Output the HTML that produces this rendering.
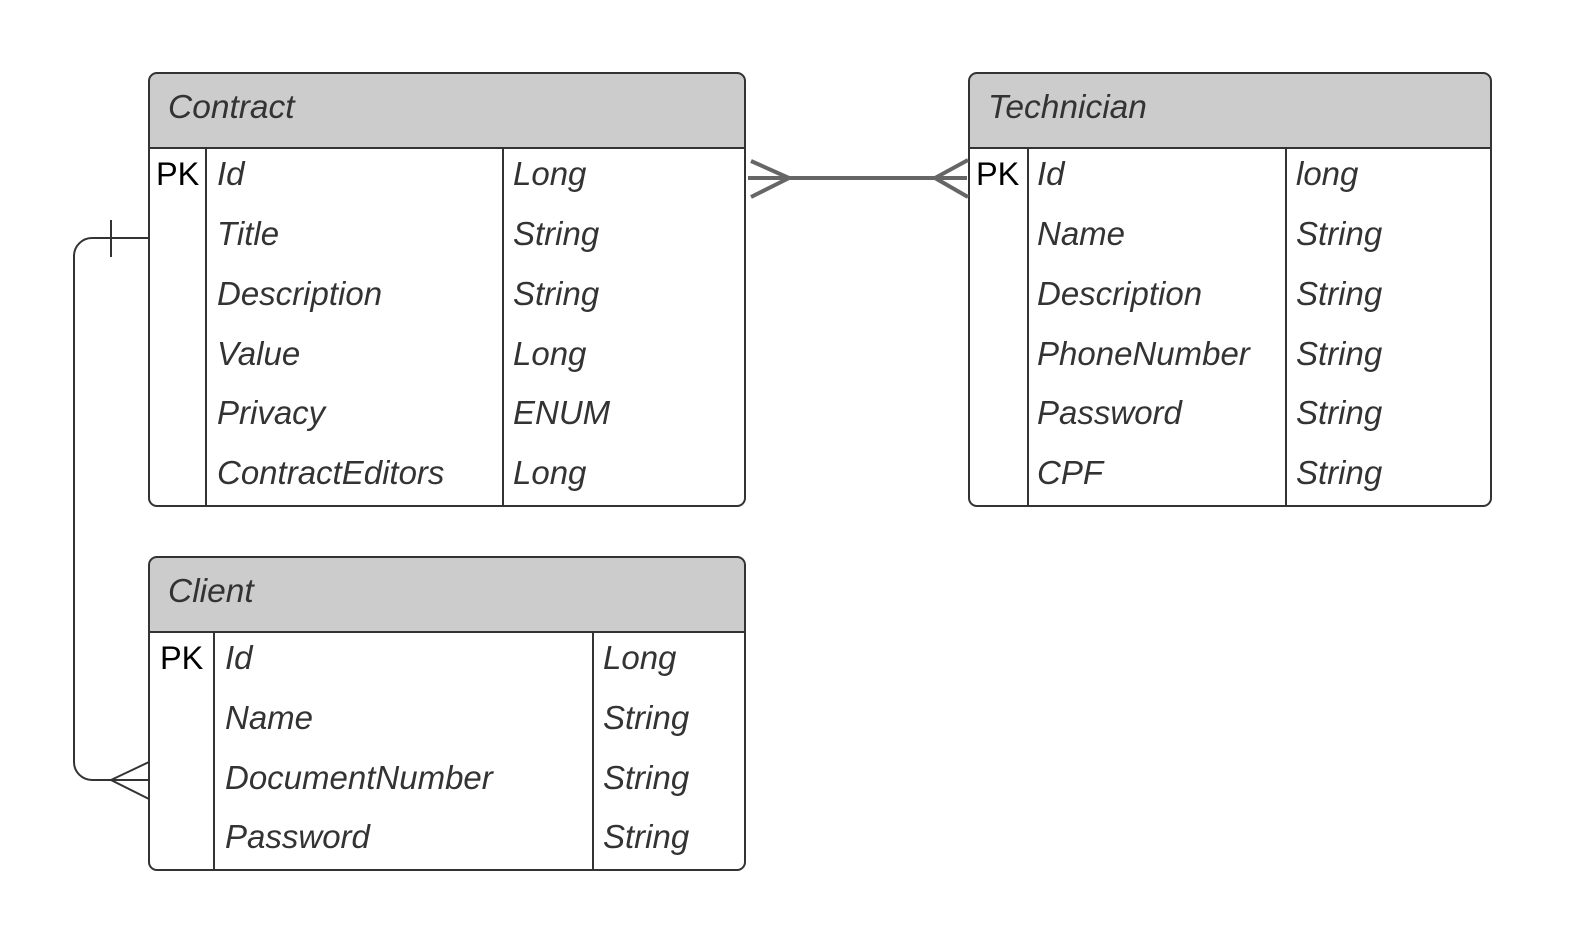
<!DOCTYPE html>
<html><head><meta charset="utf-8"><style>
html,body{margin:0;padding:0;background:#fff;}
svg{display:block;}
.t{font-family:"Liberation Sans",sans-serif;font-style:italic;font-size:33.5px;fill:#333;}
.c{font-family:"Liberation Sans",sans-serif;font-style:italic;font-size:33px;fill:#333;}
.pk{font-family:"Liberation Sans",sans-serif;font-size:32.5px;fill:#000;}
</style></head><body>
<svg width="1577" height="951" viewBox="0 0 1577 951" xmlns="http://www.w3.org/2000/svg">
<rect width="1577" height="951" fill="#fff"/>
<!-- Contract -->
<path d="M149,148 V81 a8,8 0 0 1 8,-8 H737 a8,8 0 0 1 8,8 V148 Z" fill="#ccc"/>
<rect x="149" y="73" width="596" height="433" rx="8" fill="none" stroke="#333" stroke-width="2"/>
<line x1="149" y1="148" x2="745" y2="148" stroke="#333" stroke-width="2"/>
<line x1="206" y1="148" x2="206" y2="506" stroke="#333" stroke-width="2"/>
<line x1="503" y1="148" x2="503" y2="506" stroke="#333" stroke-width="2"/>
<text class="t" x="168" y="118">Contract</text>
<text class="pk" x="156" y="185">PK</text>
<g class="c">
<text x="217" y="185">Id</text><text x="513" y="185">Long</text>
<text x="217" y="245">Title</text><text x="513" y="245">String</text>
<text x="217" y="305">Description</text><text x="513" y="305">String</text>
<text x="217" y="365">Value</text><text x="513" y="365">Long</text>
<text x="217" y="424">Privacy</text><text x="513" y="424">ENUM</text>
<text x="217" y="484">ContractEditors</text><text x="513" y="484">Long</text>
</g>
<!-- Technician -->
<path d="M969,148 V81 a8,8 0 0 1 8,-8 H1483 a8,8 0 0 1 8,8 V148 Z" fill="#ccc"/>
<rect x="969" y="73" width="522" height="433" rx="8" fill="none" stroke="#333" stroke-width="2"/>
<line x1="969" y1="148" x2="1491" y2="148" stroke="#333" stroke-width="2"/>
<line x1="1028" y1="148" x2="1028" y2="506" stroke="#333" stroke-width="2"/>
<line x1="1286" y1="148" x2="1286" y2="506" stroke="#333" stroke-width="2"/>
<text class="t" x="988" y="118">Technician</text>
<text class="pk" x="976" y="185">PK</text>
<g class="c">
<text x="1037" y="185">Id</text><text x="1296" y="185">long</text>
<text x="1037" y="245">Name</text><text x="1296" y="245">String</text>
<text x="1037" y="305">Description</text><text x="1296" y="305">String</text>
<text x="1037" y="365">PhoneNumber</text><text x="1296" y="365">String</text>
<text x="1037" y="424">Password</text><text x="1296" y="424">String</text>
<text x="1037" y="484">CPF</text><text x="1296" y="484">String</text>
</g>
<!-- Client -->
<path d="M149,632 V565 a8,8 0 0 1 8,-8 H737 a8,8 0 0 1 8,8 V632 Z" fill="#ccc"/>
<rect x="149" y="557" width="596" height="313" rx="8" fill="none" stroke="#333" stroke-width="2"/>
<line x1="149" y1="632" x2="745" y2="632" stroke="#333" stroke-width="2"/>
<line x1="214" y1="632" x2="214" y2="870" stroke="#333" stroke-width="2"/>
<line x1="593" y1="632" x2="593" y2="870" stroke="#333" stroke-width="2"/>
<text class="t" x="168" y="602">Client</text>
<text class="pk" x="160" y="669">PK</text>
<g class="c">
<text x="225" y="669">Id</text><text x="603" y="669">Long</text>
<text x="225" y="729">Name</text><text x="603" y="729">String</text>
<text x="225" y="789">DocumentNumber</text><text x="603" y="789">String</text>
<text x="225" y="848">Password</text><text x="603" y="848">String</text>
</g>
<!-- left connector -->
<path d="M149,238 H92 a18,18 0 0 0 -18,18 V762 a18,18 0 0 0 18,18 H149" fill="none" stroke="#333" stroke-width="2"/>
<line x1="111" y1="220" x2="111" y2="257" stroke="#333" stroke-width="2"/>
<path d="M149,762 L111,780 L149,799" fill="none" stroke="#333" stroke-width="2"/>
<!-- many-to-many -->
<line x1="748" y1="178" x2="967" y2="178" stroke="#666" stroke-width="4"/>
<path d="M751,161 L789,178 L751,197" fill="none" stroke="#666" stroke-width="4"/>
<path d="M968,160 L935,178 L968,197" fill="none" stroke="#666" stroke-width="4"/>
</svg>
</body></html>
